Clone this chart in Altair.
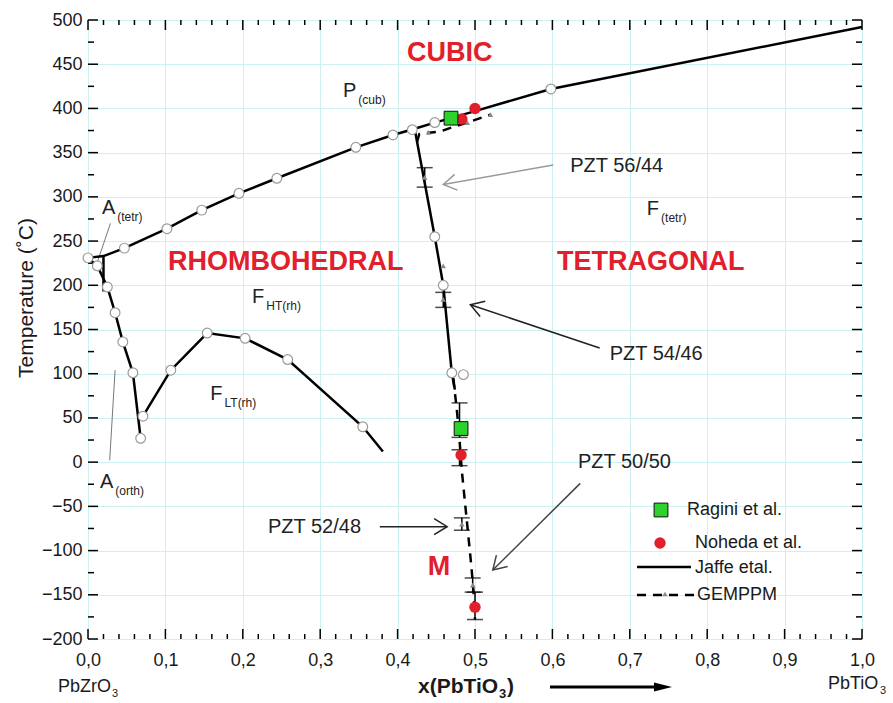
import math
import altair as alt
import pandas as pd

# ---- plot geometry / styling ------------------------------------------------
W, H = 774, 619
X_DOM = [0.0, 1.0]
T_DOM = [-200, 500]
FONT = "Liberation Sans"
GRID = "#cdf1f1"
RED = "#e2202b"
INK = "#1a1a1a"
CIRCLE_EDGE = "#9a9a9a"
GEMPPM_GREY = "#8a8a8a"

# ---- Jaffe et al. phase boundaries (solid) -----------------------------------
cubic_x = [0.0, 0.020, 0.047, 0.102, 0.147, 0.195, 0.244, 0.346, 0.394, 0.422, 0.448, 0.469, 0.500, 0.598, 1.0]
cubic_t = [231, 233, 242, 264, 285, 304, 321, 356, 370, 377, 384, 389, 397, 422, 492]

mpb_x = [0.422, 0.448, 0.459, 0.470, 0.474]
mpb_t = [377, 255, 200, 101, 82]

atetr_x = [0.020, 0.020]
atetr_t = [234, 193]

afe_x = [0.0, 0.012, 0.025, 0.035, 0.045, 0.058, 0.068]
afe_t = [231, 222, 198, 169, 136, 101, 27]

rh_x = [0.071, 0.107, 0.154, 0.203, 0.258, 0.355, 0.381]
rh_t = [52, 104, 146, 140, 116, 40, 12]

# open circles on the Jaffe boundaries
circ_x = [0.0, 0.047, 0.102, 0.147, 0.195, 0.244, 0.346, 0.394, 0.419, 0.448, 0.598,
          0.448, 0.459, 0.470, 0.485,
          0.012, 0.025, 0.035, 0.045, 0.058, 0.068,
          0.071, 0.107, 0.154, 0.203, 0.258, 0.355]
circ_t = [231, 242, 264, 285, 304, 321, 356, 370, 376, 384, 422,
          255, 200, 101, 99,
          222, 198, 169, 136, 101, 27,
          52, 104, 146, 140, 116, 40]

# ---- GEMPPM (dashed) -----------------------------------------------------------
gem_top_x = [0.425, 0.428, 0.455, 0.475, 0.490, 0.520]
gem_top_t = [362, 371, 374, 380, 384, 393]

gem_mpb_x = [0.472, 0.477, 0.480, 0.483, 0.487, 0.491, 0.495, 0.498, 0.500]
gem_mpb_t = [95, 55, 25, -10, -45, -80, -115, -145, -178]

gem_tri_x = [0.440, 0.490, 0.520, 0.435, 0.459, 0.459, 0.483, 0.497]
gem_tri_t = [373, 384, 393, 322, 222, 184, -70, -139]

# error bars
err_x = [0.435, 0.459, 0.480, 0.480, 0.483, 0.497, 0.500]
err_lo = [311, 175, 28, -4, -77, -147, -178]
err_hi = [333, 192, 67, 14, -63, -131, -147]

# ---- experimental points -------------------------------------------------------
ragini_x = [0.469, 0.482]
ragini_t = [389, 38]
noheda_x = [0.483, 0.500, 0.482, 0.500]
noheda_t = [388, 400, 8, -164]

# ---- annotations ---------------------------------------------------------------
phase_names = ["CUBIC", "RHOMBOHEDRAL", "TETRAGONAL", "M"]
phase_x = [0.412, 0.1034, 0.606, 0.439]
phase_t = [463, 226, 226, -119]

sym_main = ["P", "A", "F", "F", "F", "A"]
sym_sub = ["(cub)", "(tetr)", "(tetr)", "HT(rh)", "LT(rh)", "(orth)"]
sym_x = [0.3295, 0.018, 0.722, 0.212, 0.158, 0.0155]
sym_t = [413, 281, 280, 180, 70, -29]

pzt_labels = ["PZT 56/44", "PZT 54/46", "PZT 52/48", "PZT 50/50"]
pzt_x = [0.623, 0.674, 0.2326, 0.633]
pzt_t = [328, 116, -80, -7]
arrow_x0 = [0.601, 0.661, 0.377, 0.636]
arrow_t0 = [336, 129, -73, -24]
arrow_x1 = [0.459, 0.494, 0.464, 0.523]
arrow_t1 = [314, 178, -73, -122]
arrow_colors = ["#9a9a9a", "#222222", "#222222", "#444444"]

# pointer lines for the A(tetr) / A(orth) labels
ptr_x0 = [0.029, 0.035]
ptr_t0 = [270, 104]
ptr_x1 = [0.012, 0.028]
ptr_t1 = [226, 2]

legend_labels = ["Ragini et al.", "Noheda et al.", "Jaffe etal.", "GEMPPM"]

x_major = [round(0.1 * i, 1) for i in range(11)]
x_minor = [round(0.02 * i, 2) for i in range(51) if i % 5]
t_major = list(range(-200, 501, 50))
t_minor = list(range(-175, 500, 50))

# ---- shared scales / axes -----------------------------------------------------
xs = alt.Scale(domain=X_DOM, nice=False, zero=False)
ys = alt.Scale(domain=T_DOM, nice=False, zero=False)
x_axis = alt.Axis(values=x_major, labelExpr="replace(format(datum.value, '.1f'), '.', ',')",
                  grid=True, gridColor=GRID, gridWidth=1, ticks=False, domain=False,
                  labelFont=FONT, labelFontSize=18, labelColor=INK, labelPadding=12,
                  labelFlush=False, labelOverlap=False, labelBound=False, title=None)
y_axis = alt.Axis(values=t_major, grid=True, gridColor=GRID, gridWidth=1, ticks=False,
                  domain=False, labelFont=FONT, labelFontSize=18, labelColor=INK,
                  labelPadding=6, labelFlush=False, labelOverlap=False, title=None)


def X(f="x"):
    return alt.X(f"{f}:Q", scale=xs, axis=x_axis)


def Y(f="t"):
    return alt.Y(f"{f}:Q", scale=ys, axis=y_axis)


def lines(*segs):
    rows = []
    for name, xv, tv in segs:
        for i, (a, b) in enumerate(zip(xv, tv)):
            rows.append({"seg": name, "o": i, "x": a, "t": b})
    return pd.DataFrame(rows)


one = pd.DataFrame({"k": [0]})

layers = []

# inward ticks on all four sides
tx = pd.DataFrame({"x": x_major})
txm = pd.DataFrame({"x": x_minor})
tt = pd.DataFrame({"t": t_major})
ttm = pd.DataFrame({"t": t_minor})
for d, ln in ((tx, 10), (txm, 5)):
    layers.append(alt.Chart(d).mark_rule(color="black", strokeWidth=1.5).encode(
        x=X(), y=alt.value(H), y2=alt.value(H - ln)))
    layers.append(alt.Chart(d).mark_rule(color="black", strokeWidth=1.5).encode(
        x=X(), y=alt.value(0), y2=alt.value(ln)))
for d, ln in ((tt, 10), (ttm, 6)):
    layers.append(alt.Chart(d).mark_rule(color="black", strokeWidth=1.5).encode(
        y=Y(), x=alt.value(0), x2=alt.value(ln)))
    layers.append(alt.Chart(d).mark_rule(color="black", strokeWidth=1.5).encode(
        y=Y(), x=alt.value(W), x2=alt.value(W - ln)))

# pointer lines
ptr = pd.DataFrame({"x": ptr_x0, "t": ptr_t0, "x2": ptr_x1, "t2": ptr_t1})
layers.append(alt.Chart(ptr).mark_rule(color="#777777", strokeWidth=1).encode(
    x=X(), y=Y(), x2="x2:Q", y2="t2:Q"))

# Jaffe solid boundaries
jaffe = lines(("cubic", cubic_x, cubic_t), ("mpb", mpb_x, mpb_t), ("atetr", atetr_x, atetr_t),
              ("afe", afe_x, afe_t), ("rh", rh_x, rh_t))
layers.append(alt.Chart(jaffe).mark_line(color="black", strokeWidth=2.5).encode(
    x=X(), y=Y(), detail="seg:N", order="o:Q"))

# GEMPPM dashed boundaries
gem = lines(("top", gem_top_x, gem_top_t), ("mpb", gem_mpb_x, gem_mpb_t))
layers.append(alt.Chart(gem).mark_line(color="black", strokeWidth=2.5, strokeDash=[9, 7]).encode(
    x=X(), y=Y(), detail="seg:N", order="o:Q"))

# error bars
eb = pd.DataFrame({"x": err_x, "lo": err_lo, "hi": err_hi})
layers.append(alt.Chart(eb).mark_rule(color="black", strokeWidth=1.5).encode(
    x=X(), y=Y("lo"), y2="hi:Q"))
layers.append(alt.Chart(eb).mark_tick(orient="horizontal", color="black", size=16, thickness=1.5).encode(
    x=X(), y=Y("lo")))
layers.append(alt.Chart(eb).mark_tick(orient="horizontal", color="black", size=16, thickness=1.5).encode(
    x=X(), y=Y("hi")))

# open circles on Jaffe boundaries
circ = pd.DataFrame({"x": circ_x, "t": circ_t})
layers.append(alt.Chart(circ).mark_point(shape="circle", size=95, filled=True, fill="white",
                                         stroke=CIRCLE_EDGE, strokeWidth=1.2, opacity=1).encode(
    x=X(), y=Y()))

# GEMPPM triangles
tri = pd.DataFrame({"x": gem_tri_x, "t": gem_tri_t})
layers.append(alt.Chart(tri).mark_point(shape="triangle-up", size=30, filled=True,
                                        color=GEMPPM_GREY, opacity=1).encode(x=X(), y=Y()))

# experimental points
rag = pd.DataFrame({"x": ragini_x, "t": ragini_t})
noh = pd.DataFrame({"x": noheda_x, "t": noheda_t})
layers.append(alt.Chart(noh).mark_circle(size=130, color=RED, opacity=1).encode(x=X(), y=Y()))
layers.append(alt.Chart(rag).mark_square(size=190, color="#2bd22b", stroke="#111111",
                                         strokeWidth=1, opacity=1).encode(x=X(), y=Y()))

# PZT annotation arrows
arr = pd.DataFrame({"label": pzt_labels, "x": arrow_x0, "t": arrow_t0, "x2": arrow_x1, "t2": arrow_t1})
arr["ang"] = [
    math.degrees(math.atan2(-(b1 - b0) * H / (T_DOM[1] - T_DOM[0]), (a1 - a0) * W)) % 360
    for a0, b0, a1, b1 in zip(arrow_x0, arrow_t0, arrow_x1, arrow_t1)
]
arrow_color = alt.Color("label:N", scale=alt.Scale(domain=pzt_labels, range=arrow_colors), legend=None)
layers.append(alt.Chart(arr).mark_rule(strokeWidth=1.5).encode(
    x=X(), y=Y(), x2="x2:Q", y2="t2:Q", color=arrow_color))
CHEVRON = "M-1.3,-0.8L0,0L-1.3,0.8"
layers.append(alt.Chart(arr).mark_point(shape=CHEVRON, size=400, filled=False, strokeWidth=1.5,
                                        opacity=1).encode(
    x=X("x2"), y=Y("t2"), angle=alt.Angle("ang:Q", scale=None), color=arrow_color))

# PZT labels
pz = pd.DataFrame({"label": pzt_labels, "x": pzt_x, "t": pzt_t})
layers.append(alt.Chart(pz).mark_text(font=FONT, fontSize=20, color="#222222", align="left",
                                      baseline="alphabetic").encode(x=X(), y=Y(), text="label:N"))

# phase names
ph = pd.DataFrame({"label": phase_names, "x": phase_x, "t": phase_t})
layers.append(alt.Chart(ph).mark_text(font=FONT, fontSize=27, fontWeight="bold", color=RED,
                                      align="left", baseline="middle").encode(x=X(), y=Y(), text="label:N"))

# phase symbols with subscripts
glyph_w = {"P": 0.667, "A": 0.667, "F": 0.611}
sym = pd.DataFrame({"main": sym_main, "sub": sym_sub, "x": sym_x, "t": sym_t})
sym["xs"] = [xv + (glyph_w[m] * 20 + 2) / W for m, xv in zip(sym_main, sym_x)]
layers.append(alt.Chart(sym).mark_text(font=FONT, fontSize=20, color="#222222", align="left",
                                       baseline="alphabetic").encode(x=X(), y=Y(), text="main:N"))
layers.append(alt.Chart(sym).mark_text(font=FONT, fontSize=12, color="#222222", align="left",
                                       baseline="alphabetic", dy=7).encode(x=X("xs"), y=Y(), text="sub:N"))


# ---- text and decorations outside the plot area ---------------------------------
def label(text, px, py, size=18, weight="normal", align="left", baseline="alphabetic", angle=0):
    kw = dict(font=FONT, fontSize=size, fontWeight=weight, color=INK, align=align, baseline=baseline)
    if angle:
        kw["angle"] = angle
    return alt.Chart(pd.DataFrame({"s": [text]})).mark_text(**kw).encode(
        x=alt.value(px), y=alt.value(py), text="s:N")


layers.append(label("Temperature (˚C)", -61, 278, size=21, align="center", baseline="middle", angle=270))
layers.append(label("PbZrO", -30, 672))
layers.append(label("3", 24, 677, size=11))
layers.append(label("PbTiO", 740, 669))
layers.append(label("3", 792, 674, size=11))
layers.append(label("x(PbTiO", 330, 673, size=21, weight="bold"))
layers.append(label("3", 411, 678, size=13, weight="bold"))
layers.append(label(")", 419, 673, size=21, weight="bold"))

# composition arrow under the axis
layers.append(alt.Chart(one).mark_rule(color="black", strokeWidth=3).encode(
    x=alt.value(462), x2=alt.value(572), y=alt.value(667)))
layers.append(alt.Chart(one).mark_point(shape="M-1,-0.5L1,0L-1,0.5Z", size=324, filled=True,
                                        color="black", opacity=1).encode(
    x=alt.value(575), y=alt.value(667)))

# legend
layers.append(alt.Chart(one).mark_square(size=190, color="#2bd22b", stroke="#111111", strokeWidth=1,
                                         opacity=1).encode(x=alt.value(573), y=alt.value(490)))
layers.append(label(legend_labels[0], 599, 490, size=18, baseline="middle"))
layers.append(alt.Chart(one).mark_circle(size=130, color=RED, opacity=1).encode(
    x=alt.value(572), y=alt.value(523)))
layers.append(label(legend_labels[1], 607, 523, size=18, baseline="middle"))
layers.append(alt.Chart(one).mark_rule(color="black", strokeWidth=2.5).encode(
    x=alt.value(549), x2=alt.value(603), y=alt.value(547)))
layers.append(label(legend_labels[2], 607, 548, size=18, baseline="middle"))
layers.append(alt.Chart(one).mark_rule(color="black", strokeWidth=2.5, strokeDash=[9, 7]).encode(
    x=alt.value(549), x2=alt.value(607), y=alt.value(575)))
layers.append(alt.Chart(one).mark_point(shape="triangle-up", size=30, filled=True, color=GEMPPM_GREY,
                                        opacity=1).encode(x=alt.value(577), y=alt.value(574)))
layers.append(label(legend_labels[3], 609, 575, size=18, baseline="middle"))

chart = alt.layer(*layers).properties(
    width=W, height=H,
    autosize=alt.AutoSizeParams(type="none"),
    padding={"left": 88, "top": 20, "right": 31, "bottom": 64},
).configure_view(stroke="black", strokeWidth=2).configure(background="white")

chart.save("out.html", embed_options={"renderer": "svg", "actions": False})
